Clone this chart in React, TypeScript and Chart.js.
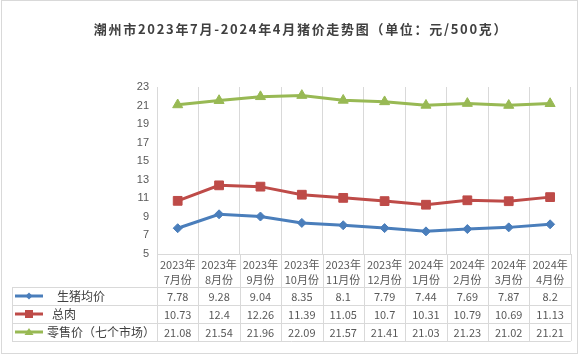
import React, { useEffect, useRef } from "react";
import { Chart, registerables } from "chart.js";

Chart.register(...registerables);

const TITLE = "潮州市2023年7月-2024年4月猪价走势图（单位：元/500克）";
const yearLabels = ["2023年", "2023年", "2023年", "2023年", "2023年", "2023年", "2024年", "2024年", "2024年", "2024年"];
const monthLabels = ["7月份", "8月份", "9月份", "10月份", "11月份", "12月份", "1月份", "2月份", "3月份", "4月份"];
const seriesNames = ["生猪均价", "总肉", "零售价（七个市场）"];
const livePig = [7.78, 9.28, 9.04, 8.35, 8.1, 7.79, 7.44, 7.69, 7.87, 8.2];
const totalMeat = [10.73, 12.4, 12.26, 11.39, 11.05, 10.7, 10.31, 10.79, 10.69, 11.13];
const retail = [21.08, 21.54, 21.96, 22.09, 21.57, 21.41, 21.03, 21.23, 21.02, 21.21];
const yMin = 5;
const yMax = 23;
const yStep = 2;

const COLORS = ["#4A7EBB", "#BE4B48", "#98B954"];
const MARKERS = ["rectRot", "rect", "triangle"];
const RADII = [4.5, 6.2, 5.8];
const GRID = "#d9d9d9";
const TEXT = "#595959";
const NUM_FONT = "11px 'Noto Sans CJK SC', 'Liberation Sans', sans-serif";

function drawMarker(ctx: CanvasRenderingContext2D, kind: number, x: number, y: number) {
  ctx.beginPath();
  if (kind === 0) {
    const r = 3.5;
    ctx.moveTo(x, y - r);
    ctx.lineTo(x + r, y);
    ctx.lineTo(x, y + r);
    ctx.lineTo(x - r, y);
    ctx.closePath();
  } else if (kind === 1) {
    ctx.rect(x - 4, y - 4, 8, 8);
  } else {
    ctx.moveTo(x, y - 4);
    ctx.lineTo(x + 4.5, y + 3);
    ctx.lineTo(x - 4.5, y + 3);
    ctx.closePath();
  }
  ctx.fill();
}

const tablePlugin = {
  id: "tablePlugin",
  afterDraw(chart: any) {
    const ctx = chart.ctx as CanvasRenderingContext2D;
    const area = chart.chartArea;
    const xs = chart.scales.x;
    const n = monthLabels.length;
    const colW = (area.right - area.left) / n;
    const top = area.bottom;
    const headerBottom = top + 33;
    const rowH = 18;
    const tableLeft = 12;
    const tableBottom = headerBottom + rowH * 3;
    ctx.save();

    // Title
    ctx.fillStyle = "#404040";
    ctx.font = "bold 13px 'Noto Sans CJK SC', sans-serif";
    (ctx as any).letterSpacing = "1.7px";
    ctx.textAlign = "center";
    ctx.textBaseline = "middle";
    ctx.fillText(TITLE, 301, 29);
    (ctx as any).letterSpacing = "0px";

    // Table lines
    ctx.strokeStyle = GRID;
    ctx.lineWidth = 1;
    ctx.beginPath();
    for (let i = 0; i <= n; i++) {
      const x = Math.round(area.left + i * colW) + 0.5;
      ctx.moveTo(x, top);
      ctx.lineTo(x, tableBottom);
    }
    ctx.moveTo(tableLeft + 0.5, headerBottom);
    ctx.lineTo(tableLeft + 0.5, tableBottom);
    for (let r = 0; r <= 3; r++) {
      const y = Math.round(headerBottom + r * rowH) + 0.5;
      ctx.moveTo(tableLeft, y);
      ctx.lineTo(area.right, y);
    }
    ctx.stroke();

    // Header text
    ctx.fillStyle = TEXT;
    ctx.font = NUM_FONT;
    ctx.textAlign = "center";
    ctx.textBaseline = "middle";
    for (let i = 0; i < n; i++) {
      const cx = xs.getPixelForValue(i);
      ctx.fillText(yearLabels[i], cx, top + 11);
      ctx.fillText(monthLabels[i], cx, top + 26);
    }

    // Rows
    const series = [livePig, totalMeat, retail];
    const textX = [57, 52, 47];
    for (let r = 0; r < 3; r++) {
      const cy = headerBottom + r * rowH + rowH / 2;
      ctx.font = NUM_FONT;
      for (let i = 0; i < n; i++) {
        ctx.fillStyle = TEXT;
        ctx.textAlign = "center";
        ctx.fillText(String(series[r][i]), xs.getPixelForValue(i), cy + 0.5);
      }
      // legend sample
      ctx.strokeStyle = COLORS[r];
      ctx.lineWidth = 3;
      ctx.beginPath();
      ctx.moveTo(15, cy);
      ctx.lineTo(43, cy);
      ctx.stroke();
      ctx.fillStyle = COLORS[r];
      drawMarker(ctx, r, 29, cy);
      ctx.fillStyle = "#404040";
      ctx.textAlign = "left";
      ctx.font = "12px 'Noto Sans CJK SC', sans-serif";
      ctx.fillText(seriesNames[r], textX[r], cy);
    }

    // Outer border
    ctx.strokeStyle = GRID;
    ctx.lineWidth = 1;
    ctx.strokeRect(1.5, 0.5, 576, 353);
    ctx.restore();
  },
};

export default function App() {
  const ref = useRef<HTMLCanvasElement | null>(null);
  useEffect(() => {
    document.body.style.margin = "0";
    const canvas = ref.current!;
    const chart = new Chart(canvas, {
      type: "line",
      data: {
        labels: monthLabels,
        datasets: [livePig, totalMeat, retail].map((d, i) => ({
          label: seriesNames[i],
          data: d,
          borderColor: COLORS[i],
          backgroundColor: COLORS[i],
          borderWidth: 3,
          pointStyle: MARKERS[i] as any,
          pointRadius: RADII[i],
          pointBorderWidth: 1,
          pointBorderColor: COLORS[i],
          pointBackgroundColor: COLORS[i],
          tension: 0,
        })),
      },
      options: {
        responsive: false,
        animation: false,
        layout: { padding: { top: 87, bottom: 102, left: 0, right: 5 } },
        plugins: { legend: { display: false }, title: { display: false }, tooltip: { enabled: false } },
        scales: {
          x: {
            offset: true,
            grid: { display: true, color: GRID, drawTicks: false, offset: true },
            border: { display: true, color: GRID },
            ticks: { display: false },
            afterFit: (s: any) => {
              s.height = 0;
            },
          },
          y: {
            min: yMin,
            max: yMax,
            grid: { display: false, drawTicks: false },
            border: { display: false },
            ticks: {
              stepSize: yStep,
              padding: 8,
              color: TEXT,
              font: { size: 11, family: "'Liberation Sans', sans-serif" },
            },
            afterFit: (s: any) => {
              s.width = 157;
            },
          },
        },
      },
      plugins: [tablePlugin],
    });
    return () => chart.destroy();
  }, []);
  return <canvas ref={ref} width={578} height={356} style={{ display: "block" }} />;
}
